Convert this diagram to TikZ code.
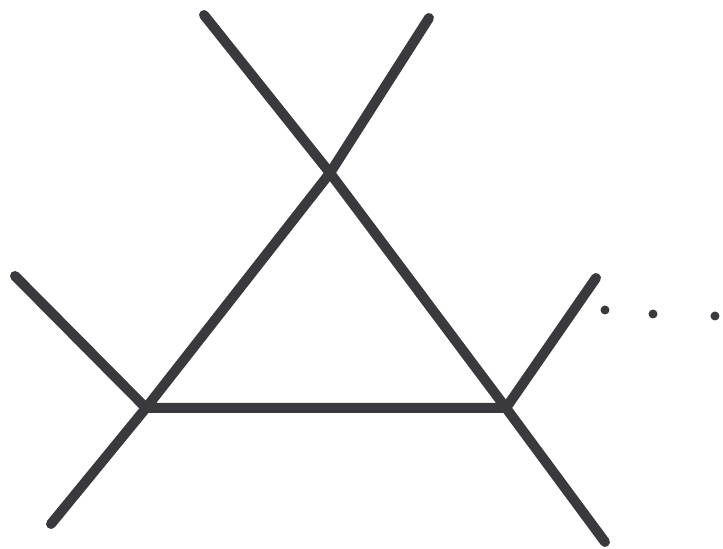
\documentclass[tikz,border=0pt]{standalone}
\usepackage{tikz}

\definecolor{tinta}{RGB}{58,58,62}

\tikzset{
  arista/.style={draw=tinta, line width=0.1cm, line cap=round, line join=round},
  punto/.style={fill=tinta}
}

\begin{document}
\begin{tikzpicture}[x=0.01cm, y=-0.01cm]

\useasboundingbox (0,0) rectangle (723,549);

% Vertices del triangulo
\coordinate (A) at (330,173);
\coordinate (B) at (146,408);
\coordinate (C) at (506,408);

% Extremos de las patas
\coordinate (A1) at (204,15);
\coordinate (A2) at (429,18);
\coordinate (B1) at (15,276);
\coordinate (B2) at (51,524);
\coordinate (C1) at (596,278);
\coordinate (C2) at (605,542);

% Triangulo
\draw[arista] (A) -- (B) -- (C) -- cycle;

% Patas
\draw[arista] (A) -- (A1);
\draw[arista] (A) -- (A2);
\draw[arista] (B) -- (B1);
\draw[arista] (B) -- (B2);
\draw[arista] (C) -- (C1);
\draw[arista] (C) -- (C2);

% Puntos suspensivos
\fill[punto] (605,310) circle (4.5);
\fill[punto] (653,314) circle (4.5);
\fill[punto] (715,316) circle (4.5);

\end{tikzpicture}
\end{document}
